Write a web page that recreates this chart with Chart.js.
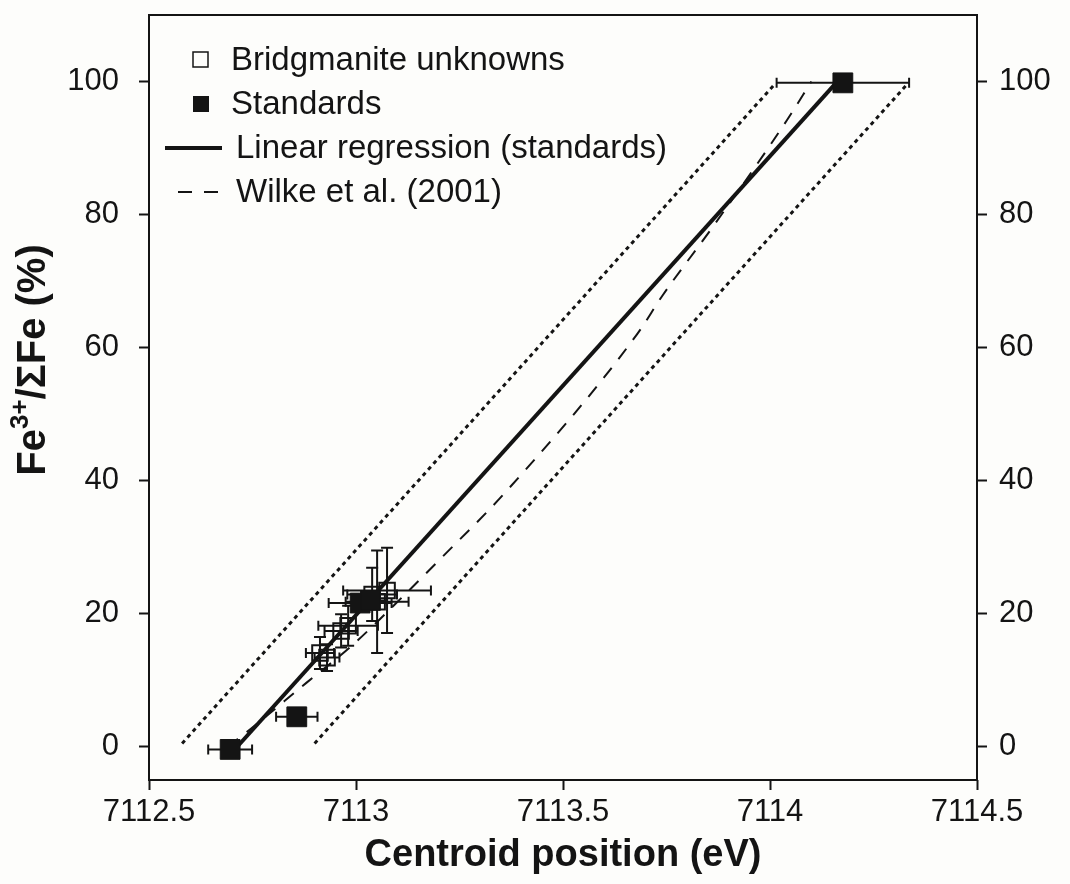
<!DOCTYPE html>
<html>
<head>
<meta charset="utf-8">
<script src="https://cdn.jsdelivr.net/npm/chart.js@4"></script>
<style>
  html, body { margin: 0; padding: 0; background: #fdfdfb; }
  #wrap { width: 1070px; height: 884px; }
</style>
</head>
<body>
<div id="wrap"><canvas id="grafica"></canvas></div>
<script>
// Ejes
const xTicks = [7112.5, 7113, 7113.5, 7114, 7114.5];
const yTicks = [0, 20, 40, 60, 80, 100];

// Muestras de bridgmanita (cuadrados vacios)
const unkX = [7112.913, 7112.930, 7112.964, 7112.981, 7113.039, 7113.051, 7113.075];
const unkY = [14.1, 13.4, 17.4, 18.2, 22.9, 21.8, 23.5];
const unkXErr = [0.034, 0.030, 0.040, 0.072, 0.060, 0.076, 0.106];
const unkYErr = [2.4, 2.0, 2.5, 3.0, 4.0, 7.7, 6.4];

// Estandares (cuadrados llenos)
const stdX = [7112.696, 7112.857, 7113.010, 7113.035, 7114.176];
const stdY = [-0.4, 4.5, 21.6, 22.0, 99.8];
const stdXErr = [0.053, 0.050, 0.076, 0.040, 0.160];

// Recta de regresion de los estandares y bandas punteadas
const regX = [7112.70, 7114.17];
const regY = [-0.9, 100.5];
const bandLoX = [7112.58, 7114.01];
const bandHiX = [7112.90, 7114.33];
const bandY = [0.5, 99.5];

// Calibracion de Wilke et al. (2001)
const wilkeX = [7112.69, 7112.74, 7112.88, 7112.99, 7113.12, 7113.20, 7113.36, 7113.68, 7113.74, 7113.86, 7114.04, 7114.10];
const wilkeY = [0, 2.4, 9.6, 15.2, 23.0, 28.0, 38.2, 62.1, 67.8, 78.0, 94.1, 100];

const FAMILIA = '"Liberation Sans", Arial, Helvetica, sans-serif';
const NEGRO = '#141414';

function puntos(xs, ys) {
    return xs.map(function (x, i) { return { x: x, y: ys[i] }; });
}

// fondo del canvas
const fondo = {
    id: 'fondo',
    beforeDraw(chart) {
        const ctx = chart.ctx;
        ctx.save();
        ctx.fillStyle = '#fdfdfb';
        ctx.fillRect(0, 0, chart.width, chart.height);
        ctx.restore();
    }
};

// barras de error debajo de los marcadores
const barrasError = {
    id: 'barrasError',
    beforeDatasetsDraw(chart) {
        const { ctx, scales: { x, y } } = chart;
        ctx.save();
        ctx.strokeStyle = NEGRO;
        ctx.lineWidth = 2;
        function barra(px, py, ex, ey) {
            const cx = x.getPixelForValue(px), cy = y.getPixelForValue(py);
            ctx.beginPath();
            if (ex > 0) {
                const x0 = x.getPixelForValue(px - ex), x1 = x.getPixelForValue(px + ex);
                ctx.moveTo(x0, cy); ctx.lineTo(x1, cy);
                ctx.moveTo(x0, cy - 5); ctx.lineTo(x0, cy + 5);
                ctx.moveTo(x1, cy - 5); ctx.lineTo(x1, cy + 5);
            }
            if (ey > 0) {
                const y0 = y.getPixelForValue(py - ey), y1 = y.getPixelForValue(py + ey);
                ctx.moveTo(cx, y0); ctx.lineTo(cx, y1);
                ctx.moveTo(cx - 6, y0); ctx.lineTo(cx + 6, y0);
                ctx.moveTo(cx - 6, y1); ctx.lineTo(cx + 6, y1);
            }
            ctx.stroke();
        }
        unkX.forEach(function (v, i) { barra(v, unkY[i], unkXErr[i], unkYErr[i]); });
        stdX.forEach(function (v, i) { barra(v, stdY[i], stdXErr[i], 0); });
        ctx.restore();
    }
};

// marco, leyenda y titulo del eje y
const decoracion = {
    id: 'decoracion',
    afterDraw(chart) {
        const ctx = chart.ctx;
        const a = chart.chartArea;
        ctx.save();
        ctx.strokeStyle = NEGRO;
        ctx.lineWidth = 2;
        ctx.strokeRect(a.left, a.top, a.right - a.left, a.bottom - a.top);

        // leyenda
        const filas = [
            { tipo: 'vacio', texto: chart.data.datasets[1].label },
            { tipo: 'lleno', texto: chart.data.datasets[0].label },
            { tipo: 'linea', texto: chart.data.datasets[2].label },
            { tipo: 'guion', texto: chart.data.datasets[3].label }
        ];
        ctx.font = '33px ' + FAMILIA;
        ctx.textBaseline = 'middle';
        ctx.fillStyle = NEGRO;
        filas.forEach(function (f, i) {
            const yy = a.top + 45 + i * 44;
            if (f.tipo === 'vacio') {
                ctx.lineWidth = 1.5;
                ctx.strokeRect(193, yy - 8, 15, 15);
            } else if (f.tipo === 'lleno') {
                ctx.fillRect(193, yy - 8, 16, 16);
            } else if (f.tipo === 'linea') {
                ctx.lineWidth = 4;
                ctx.beginPath(); ctx.moveTo(165, yy); ctx.lineTo(222, yy); ctx.stroke();
            } else {
                ctx.lineWidth = 2;
                ctx.beginPath();
                ctx.moveTo(178, yy); ctx.lineTo(192, yy);
                ctx.moveTo(204, yy); ctx.lineTo(218, yy);
                ctx.stroke();
            }
            ctx.fillText(f.texto, 231 + (i > 1 ? 5 : 0), yy + 1);
        });

        // titulo del eje y con superindice
        const partes = [
            { t: 'Fe', f: 'bold 40px ' + FAMILIA, dy: 0 },
            { t: '3+', f: 'bold 26px ' + FAMILIA, dy: -13 },
            { t: '/\u03A3Fe (%)', f: 'bold 40px ' + FAMILIA, dy: 0 }
        ];
        let total = 0;
        partes.forEach(function (p) { ctx.font = p.f; p.w = ctx.measureText(p.t).width; total += p.w; });
        ctx.translate(34, 360);
        ctx.rotate(-Math.PI / 2);
        ctx.textAlign = 'left';
        let px = -total / 2;
        partes.forEach(function (p) {
            ctx.font = p.f;
            ctx.fillText(p.t, px, p.dy);
            px += p.w;
        });
        ctx.restore();
    }
};

function ejeY(posicion, ancho, relleno) {
    return {
        type: 'linear',
        position: posicion,
        min: -5,
        max: 110,
        afterBuildTicks: function (s) { s.ticks = yTicks.map(function (v) { return { value: v }; }); },
        afterFit: function (s) { s.width = ancho; s.paddingTop = 0; s.paddingBottom = 0; },
        border: { display: false },
        grid: { drawOnChartArea: false, drawTicks: true, tickLength: 10, tickWidth: 2, tickColor: NEGRO },
        ticks: {
            color: NEGRO, padding: relleno, autoSkip: false,
            font: { family: FAMILIA, size: 31 },
            callback: function (v) { return String(v); }
        }
    };
}

const datos = {
    datasets: [
        {
            label: 'Standards',
            data: puntos(stdX, stdY),
            pointStyle: 'rect', pointRadius: 14, pointHoverRadius: 14,
            backgroundColor: NEGRO, borderColor: NEGRO, borderWidth: 1,
            showLine: false
        },
        {
            label: 'Bridgmanite unknowns',
            data: puntos(unkX, unkY),
            pointStyle: 'rect', pointRadius: 11, pointHoverRadius: 11,
            backgroundColor: 'rgba(0,0,0,0)', borderColor: NEGRO, borderWidth: 2,
            showLine: false
        },
        {
            label: 'Linear regression (standards)',
            data: puntos(regX, regY),
            showLine: true, pointRadius: 0, borderColor: NEGRO, borderWidth: 4
        },
        {
            label: 'Wilke et al. (2001)',
            data: puntos(wilkeX, wilkeY),
            showLine: true, pointRadius: 0, borderColor: NEGRO, borderWidth: 2,
            borderDash: [13, 11], cubicInterpolationMode: 'monotone'
        },
        {
            label: 'banda inferior',
            data: puntos(bandLoX, bandY),
            showLine: true, pointRadius: 0, borderColor: NEGRO, borderWidth: 3,
            borderDash: [4, 4]
        },
        {
            label: 'banda superior',
            data: puntos(bandHiX, bandY),
            showLine: true, pointRadius: 0, borderColor: NEGRO, borderWidth: 3,
            borderDash: [4, 4]
        }
    ]
};

const opciones = {
    responsive: true,
    maintainAspectRatio: false,
    animation: false,
    layout: { padding: { top: 14, left: 0, right: 0, bottom: 0 } },
    plugins: { legend: { display: false }, tooltip: { enabled: false } },
    scales: {
        x: {
            type: 'linear',
            position: 'bottom',
            min: 7112.5,
            max: 7114.5,
            afterBuildTicks: function (s) { s.ticks = xTicks.map(function (v) { return { value: v }; }); },
            afterFit: function (s) { s.height = 104; s.paddingLeft = 0; s.paddingRight = 0; },
            border: { display: false },
            grid: { drawOnChartArea: false, drawTicks: true, tickLength: 10, tickWidth: 2, tickColor: NEGRO },
            ticks: {
                color: NEGRO, padding: 4, autoSkip: false, maxRotation: 0,
                font: { family: FAMILIA, size: 31 },
                callback: function (v) { return String(v); }
            },
            title: {
                display: true, text: 'Centroid position (eV)', color: NEGRO,
                font: { family: FAMILIA, size: 38, weight: 'bold' },
                padding: { top: 0, bottom: 6 }
            }
        },
        y: ejeY('left', 149, 20),
        y2: ejeY('right', 93, 12)
    }
};

new Chart(document.getElementById('grafica'), {
    type: 'scatter',
    data: datos,
    options: opciones,
    plugins: [fondo, barrasError, decoracion]
});
</script>
</body>
</html>
